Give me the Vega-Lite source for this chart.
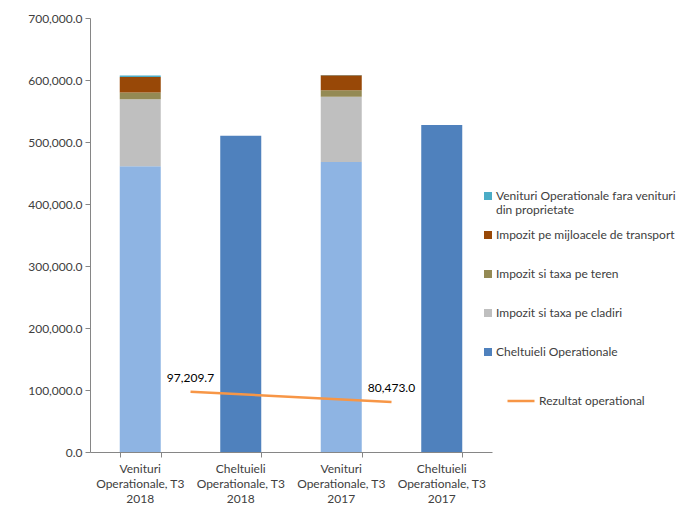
{
  "$schema": "https://vega.github.io/schema/vega-lite/v6.json",
  "autosize": "none",
  "width": 402,
  "height": 434,
  "padding": {"left": 90, "top": 18, "right": 192, "bottom": 53},
  "config": {
    "view": {"stroke": null},
    "font": "Lato",
    "axis": {"labelFont": "Lato", "labelFontSize": 12, "labelColor": "#404040", "domainColor": "#868686", "tickColor": "#868686", "grid": false},
    "legend": {"labelFont": "Lato", "labelFontSize": 12, "labelColor": "#404040"}
  },
  "datasets": {
    "bars": [
      {"cat": "V2018", "serie": "Alte venituri operationale", "ord": 1, "value": 461000},
      {"cat": "V2018", "serie": "Impozit si taxa pe cladiri", "ord": 2, "value": 108000},
      {"cat": "V2018", "serie": "Impozit si taxa pe teren", "ord": 3, "value": 10800},
      {"cat": "V2018", "serie": "Impozit pe mijloacele de transport", "ord": 4, "value": 25000},
      {"cat": "V2018", "serie": "Venituri Operationale fara venituri din proprietate", "ord": 5, "value": 2500},
      {"cat": "C2018", "serie": "Cheltuieli Operationale", "ord": 6, "value": 510090},
      {"cat": "V2017", "serie": "Alte venituri operationale", "ord": 1, "value": 467700},
      {"cat": "V2017", "serie": "Impozit si taxa pe cladiri", "ord": 2, "value": 105300},
      {"cat": "V2017", "serie": "Impozit si taxa pe teren", "ord": 3, "value": 10300},
      {"cat": "V2017", "serie": "Impozit pe mijloacele de transport", "ord": 4, "value": 24200},
      {"cat": "V2017", "serie": "Venituri Operationale fara venituri din proprietate", "ord": 5, "value": 500},
      {"cat": "C2017", "serie": "Cheltuieli Operationale", "ord": 6, "value": 527527}
    ],
    "line": [
      {"per": "2018", "serie": "Rezultat operational", "value": 97209.7},
      {"per": "2017", "serie": "Rezultat operational", "value": 80473.0}
    ]
  },
  "layer": [
    {
      "data": {"name": "bars"},
      "mark": {"type": "bar"},
      "encoding": {
        "x": {
          "field": "cat", "type": "nominal", "sort": ["V2018", "C2018", "V2017", "C2017"],
          "scale": {"paddingInner": 0.592, "paddingOuter": 0.296},
          "axis": {
            "title": null, "orient": "bottom", "labelAngle": 0, "ticks": false, "domain": false, "labelPadding": 11, "labelLineHeight": 15,
            "labelExpr": "datum.value == 'V2018' ? ['Venituri', 'Operationale, T3', '2018'] : datum.value == 'C2018' ? ['Cheltuieli', 'Operationale, T3', '2018'] : datum.value == 'V2017' ? ['Venituri', 'Operationale, T3', '2017'] : ['Cheltuieli', 'Operationale, T3', '2017']"
          }
        },
        "y": {
          "field": "value", "type": "quantitative", "stack": "zero",
          "scale": {"domain": [0, 700000], "nice": false},
          "axis": {"title": null, "format": ",.1f", "values": [0, 100000, 200000, 300000, 400000, 500000, 600000, 700000], "tickSize": 5, "labelPadding": 3}
        },
        "color": {
          "field": "serie", "type": "nominal",
          "scale": {
            "domain": ["Alte venituri operationale", "Impozit si taxa pe cladiri", "Impozit si taxa pe teren", "Impozit pe mijloacele de transport", "Venituri Operationale fara venituri din proprietate", "Cheltuieli Operationale"],
            "range": ["#8EB4E3", "#BFBFBF", "#948A54", "#984807", "#4BACC6", "#4F81BD"]
          },
          "legend": {
            "title": null,
            "orient": "none", "legendX": 392, "legendY": 172,
            "values": ["Venituri Operationale fara venituri din proprietate", "Impozit pe mijloacele de transport", "Impozit si taxa pe teren", "Impozit si taxa pe cladiri", "Cheltuieli Operationale"],
            "symbolType": "square", "symbolSize": 64, "symbolStrokeWidth": 0, "labelOffset": 2,
            "rowPadding": 13, "gridAlign": "all",
            "labelExpr": "datum.label == 'Venituri Operationale fara venituri din proprietate' ? ['Venituri Operationale fara venituri', 'din proprietate'] : datum.label",
            "labelLimit": 300
          }
        },
        "order": {"field": "ord", "type": "quantitative"}
      }
    },
    {
      "data": {"name": "bars"},
      "mark": {"type": "tick", "opacity": 0},
      "encoding": {
        "x": {
          "field": "cat", "type": "nominal", "sort": ["V2018", "C2018", "V2017", "C2017"],
          "scale": {"paddingInner": 0.592, "paddingOuter": 0.296},
          "axis": {"title": null, "orient": "bottom", "labels": false, "ticks": true, "tickBand": "extent", "tickSize": 5, "domain": true}
        },
        "y": {"field": "value", "type": "quantitative", "aggregate": "min"}
      }
    },
    {
      "data": {"name": "line"},
      "mark": {"type": "line", "strokeWidth": 2.5},
      "encoding": {
        "x": {"field": "per", "type": "nominal", "sort": ["2018", "2017"], "scale": {"type": "point", "padding": 0.5}, "axis": null},
        "y": {"field": "value", "type": "quantitative"},
        "stroke": {
          "field": "serie", "type": "nominal",
          "scale": {"domain": ["Rezultat operational"], "range": ["#F79646"]},
          "legend": {"title": null, "orient": "none", "legendX": 416, "legendY": 368, "symbolType": "stroke", "symbolSize": 729, "symbolStrokeWidth": 2.5, "labelOffset": 3}
        }
      }
    },
    {
      "data": {"name": "line"},
      "mark": {"type": "text", "dy": -14, "fontSize": 12, "font": "Lato", "color": "#000000"},
      "encoding": {
        "x": {"field": "per", "type": "nominal", "sort": ["2018", "2017"], "scale": {"type": "point", "padding": 0.5}, "axis": null},
        "y": {"field": "value", "type": "quantitative"},
        "text": {"field": "value", "type": "quantitative", "format": ",.1f"}
      }
    }
  ],
  "resolve": {"scale": {"x": "independent"}}
}
